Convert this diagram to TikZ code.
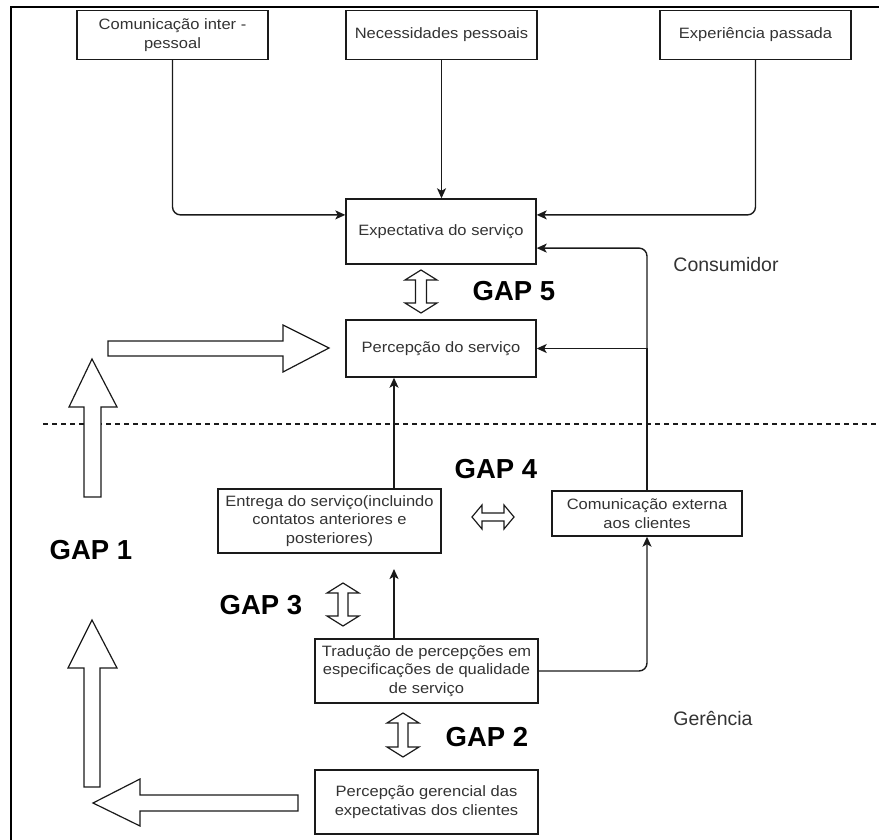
\documentclass[tikz,border=0pt]{standalone}
\usepackage{fontspec}
\setmainfont{Liberation Sans}
\newfontfamily\boxfont{Liberation Sans}[FakeStretch=1.1]
\usetikzlibrary{arrows.meta,calc}
\definecolor{linecol}{HTML}{1A1A1A}
\definecolor{txtcol}{HTML}{333333}
\tikzset{
  box/.style={draw=linecol, line width=1.4pt, fill=white, inner sep=2pt, align=center,
    font=\boxfont\fontsize{15}{18.5}\selectfont, text=txtcol},
  conn/.style={draw=linecol, line width=1.4pt, -{Stealth[length=10pt,width=9pt,inset=2.5pt]}},
  hollow/.style={draw=linecol, line width=1.2pt, fill=white, line join=miter},
  gaplabel/.style={font=\bfseries\fontsize{27.5}{31}\selectfont, text=black},
  zone/.style={font=\fontsize{19.5}{22}\selectfont, text=txtcol},
}
% vertical double arrow: x centre, top y, bottom y, half head width, head length, half shaft width
\newcommand{\gapvarrow}[6]{%
  \draw[hollow] (#1,#2) -- (#1+#4,#2+#5) -- (#1+#6,#2+#5) -- (#1+#6,#3-#5) -- (#1+#4,#3-#5)
    -- (#1,#3) -- (#1-#4,#3-#5) -- (#1-#6,#3-#5) -- (#1-#6,#2+#5) -- (#1-#4,#2+#5) -- cycle;}
% horizontal double arrow: y centre, left x, right x, half head height, head length, half shaft height
\newcommand{\gapharrow}[6]{%
  \draw[hollow] (#2,#1) -- (#2+#5,#1-#4) -- (#2+#5,#1-#6) -- (#3-#5,#1-#6) -- (#3-#5,#1-#4)
    -- (#3,#1) -- (#3-#5,#1+#4) -- (#3-#5,#1+#6) -- (#2+#5,#1+#6) -- (#2+#5,#1+#4) -- cycle;}
\begin{document}
\begin{tikzpicture}[x=1pt,y=-1pt]
\useasboundingbox (0,0) rectangle (879,840);

% outer frame (top and left edges only)
\draw[black, line width=2.5pt, line join=miter] (879,7) -- (11,7) -- (11,840);

% separation between consumer and management
\draw[linecol, line width=1.1pt, dash pattern=on 5pt off 4pt] (43,424) -- (879,424);

% top inputs
\node[box, minimum width=191pt, minimum height=49pt] (c1) at (172.5,35) {Comunicação inter -\\pessoal};
\node[box, minimum width=191pt, minimum height=49pt] (c2) at (441.5,35) {Necessidades pessoais};
\node[box, minimum width=191pt, minimum height=49pt] (c3) at (755.5,35) {Experiência passada};

% consumer side
\node[box, minimum width=190pt, minimum height=65pt] (exp) at (441,231.5) {Expectativa do serviço};
\node[box, minimum width=190pt, minimum height=57pt] (perc) at (441,348.5) {Percepção do serviço};

% management side
\node[box, minimum width=223pt, minimum height=64pt] (entrega) at (329.5,521)
  {Entrega do serviço(incluindo\\contatos anteriores e\\posteriores)};
\node[box, minimum width=190pt, minimum height=45pt] (comext) at (647,513.5)
  {Comunicação externa\\aos clientes};
\node[box, minimum width=223pt, minimum height=64pt] (trad) at (426.5,671)
  {Tradução de percepções em\\especificações de qualidade\\de serviço};
\node[box, minimum width=223pt, minimum height=64pt] (pger) at (426.5,802)
  {Percepção gerencial das\\expectativas dos clientes};

% zone labels
\node[zone] (consumidor) at (726,265) {Consumidor};
\node[zone] (gerencia) at (713,718) {Gerência};

% gap labels
\node[gaplabel] (g5) at (514,291) {GAP 5};
\node[gaplabel] (g4) at (496,469) {GAP 4};
\node[gaplabel] (g3) at (261,605) {GAP 3};
\node[gaplabel] (g2) at (487,737) {GAP 2};
\node[gaplabel] (g1) at (91,550) {GAP 1};

% connectors
\coordinate (xc) at (394,0);
\coordinate (t3) at (394,569);
\draw[conn, rounded corners=8pt] (c1.south) |- ($(exp.north west)!0.25!(exp.south west)$);
\draw[conn] (c2.south) -- (c2.south |- exp.north);
\draw[conn, rounded corners=8pt] (c3.south) |- ($(exp.north east)!0.25!(exp.south east)$);
\draw[conn, rounded corners=8pt] (comext.north) |- ($(exp.north east)!0.75!(exp.south east)$);
\draw[conn] (comext.north) |- (perc.east);
\draw[conn] (entrega.north -| xc) -- (perc.south -| xc);
\draw[conn] (trad.north -| xc) -- (t3);
\draw[conn, rounded corners=8pt] (trad.east) -| (comext.south);

% gap double arrows
\gapvarrow{421}{270}{313}{16}{10}{5.5}
\gapharrow{517}{472}{514}{12}{10}{4}
\gapvarrow{343}{583}{626}{16}{10}{5}
\gapvarrow{403}{713}{757}{16}{10}{5}

% large hollow arrows (GAP 1 loop)
\draw[hollow] (108,341) -- (283,341) -- (283,325) -- (329,348) -- (283,372) -- (283,356) -- (108,356) -- cycle;
\draw[hollow] (84,497) -- (84,407) -- (69,407) -- (92,359) -- (117,407) -- (101,407) -- (101,497) -- cycle;
\draw[hollow] (84,787) -- (84,668) -- (68,668) -- (92,620) -- (117,668) -- (100,668) -- (100,787) -- cycle;
\draw[hollow] (298,795) -- (140,795) -- (140,779) -- (93,803) -- (140,826) -- (140,811) -- (298,811) -- cycle;
\end{tikzpicture}
\end{document}
